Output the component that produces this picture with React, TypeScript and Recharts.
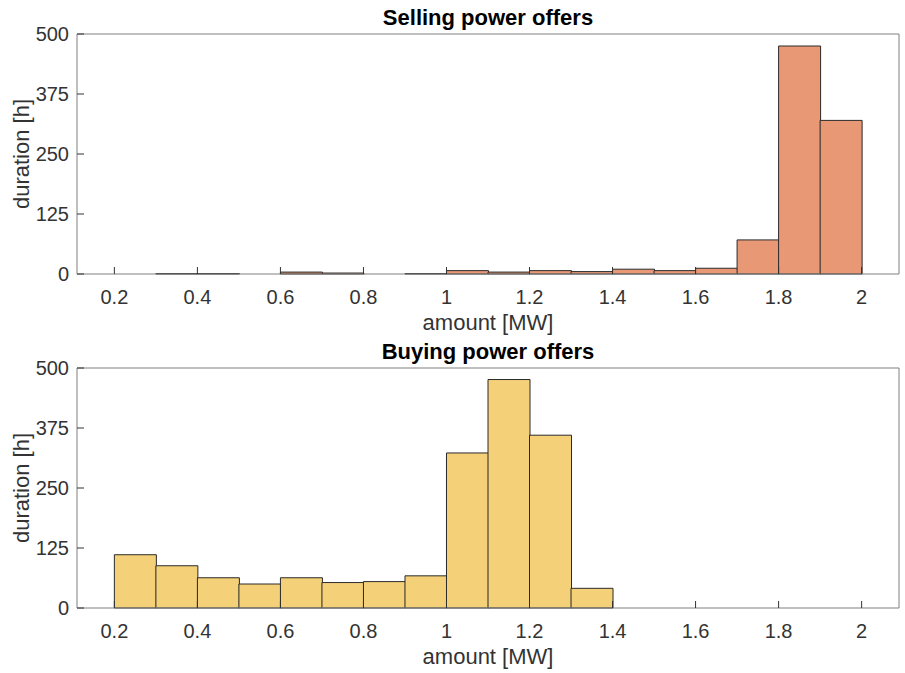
import { BarChart, Bar, XAxis, YAxis, Label } from 'recharts';

// histogram bins are 0.1 MW wide, labelled by their centre
const binCenters = [0.25, 0.35, 0.45, 0.55, 0.65, 0.75, 0.85, 0.95, 1.05, 1.15, 1.25, 1.35, 1.45, 1.55, 1.65, 1.75, 1.85, 1.95];
const sellingHours = [0, 1, 1, 0, 4, 2, 0, 1, 7, 4, 7, 5, 10, 7, 12, 71, 475, 320];
const buyingHours = [111, 88, 63, 50, 63, 53, 55, 67, 323, 476, 360, 41, 0, 0, 0, 0, 0, 0];

const amountTicks = [0.2, 0.4, 0.6, 0.8, 1, 1.2, 1.4, 1.6, 1.8, 2];
const durationTicks = [0, 125, 250, 375, 500];
const amountDomain = [0.11, 2.09];

const FONT = '"Liberation Sans", Arial, Helvetica, sans-serif';
const AXIS = '#808080';
const INK = '#333333';

interface HistProps {
  title: string;
  hours: number[];
  fill: string;
  top: number;
  height: number;
  marginTop: number;
  axisHeight: number;
}

function Histogram({ title, hours, fill, top, height, marginTop, axisHeight }: HistProps) {
  const data = binCenters.map((mid, i) => ({ mid, hours: hours[i] }));
  return (
    <div style={{ position: 'absolute', left: 0, top, width: 905, height }}>
      <div
        style={{
          position: 'absolute',
          left: 77,
          width: 822,
          top: marginTop - 28,
          textAlign: 'center',
          fontWeight: 'bold',
          fontSize: 22,
          lineHeight: '26px',
          color: '#000',
        }}
      >
        {title}
      </div>
      <BarChart
        width={905}
        height={height}
        data={data}
        margin={{ top: marginTop, right: 5, bottom: 0, left: 17 }}
        barCategoryGap={0}
        barGap={0}
      >
        <XAxis
          xAxisId="bottom"
          dataKey="mid"
          type="number"
          domain={amountDomain}
          allowDataOverflow
          ticks={amountTicks}
          interval={0}
          height={axisHeight}
          stroke={AXIS}
          tickSize={-7}
          tickMargin={23}
          tickLine={{ stroke: INK }}
          tick={{ fill: INK, fontSize: 20 }}
        >
          <Label
            content={({ viewBox }: any) => (
              <text
                x={viewBox.x + viewBox.width / 2}
                y={viewBox.y + 56}
                textAnchor="middle"
                fill={INK}
                fontSize={22}
              >
                amount [MW]
              </text>
            )}
          />
        </XAxis>
        <XAxis
          xAxisId="top"
          orientation="top"
          dataKey="mid"
          type="number"
          domain={amountDomain}
          allowDataOverflow
          ticks={amountTicks}
          interval={0}
          height={1}
          stroke={AXIS}
          tickSize={-7}
          tickLine={{ stroke: INK }}
          tick={false}
        />
        <YAxis
          yAxisId="left"
          type="number"
          domain={[0, 500]}
          ticks={durationTicks}
          interval={0}
          width={60}
          stroke={AXIS}
          tickSize={-7}
          tickMargin={15}
          tickLine={{ stroke: INK }}
          tick={{ fill: INK, fontSize: 20 }}
        >
          <Label
            content={({ viewBox }: any) => {
              const cx = viewBox.x + 4;
              const cy = viewBox.y + viewBox.height / 2;
              return (
                <text
                  x={cx}
                  y={cy}
                  dy="0.35em"
                  transform={`rotate(-90 ${cx} ${cy})`}
                  textAnchor="middle"
                  fill={INK}
                  fontSize={22}
                >
                  duration [h]
                </text>
              );
            }}
          />
        </YAxis>
        <YAxis
          yAxisId="right"
          orientation="right"
          type="number"
          domain={[0, 500]}
          ticks={durationTicks}
          interval={0}
          width={1}
          stroke={AXIS}
          tickSize={-7}
          tickLine={{ stroke: INK }}
          tick={false}
        />
        <Bar
          xAxisId="bottom"
          yAxisId="left"
          dataKey="hours"
          fill={fill}
          stroke="#2a2a2a"
          strokeWidth={1}
          isAnimationActive={false}
        />
      </BarChart>
    </div>
  );
}

export default function App() {
  return (
    <div style={{ position: 'absolute', left: 0, top: 0, width: 905, height: 673, background: '#fff', fontFamily: FONT }}>
      <Histogram title="Selling power offers" hours={sellingHours} fill="#E89875" top={0} height={336} marginTop={33} axisHeight={62} />
      <Histogram title="Buying power offers" hours={buyingHours} fill="#F4D079" top={336} height={337} marginTop={31} axisHeight={65} />
    </div>
  );
}
